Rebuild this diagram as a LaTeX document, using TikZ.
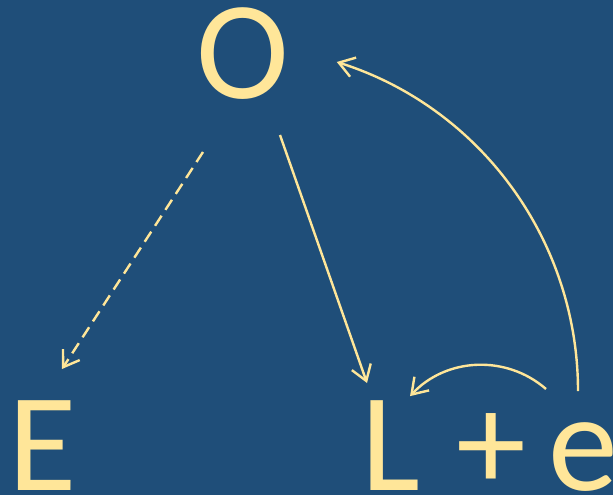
\documentclass[tikz,border=0pt]{standalone}
\usepackage{fontspec}
\setmainfont{Carlito}
\usetikzlibrary{arrows.meta,calc}
\definecolor{bgblue}{HTML}{1F4E79}
\definecolor{txtyellow}{HTML}{FFE699}
\begin{document}
\begin{tikzpicture}[x=1pt,y=-1pt,
  lbl/.style={inner sep=0pt,anchor=base,text=txtyellow,font=\fontsize{140}{140}\selectfont},
  conn/.style={draw=txtyellow,line width=2.4pt,-{Straight Barb[length=15pt,width=20pt,line width=2.4pt]}}]
\fill[bgblue] (0,0) rectangle (613,495);
\useasboundingbox (0,0) rectangle (613,495);
\node[lbl] (O) at (243,98) {O};
\node[lbl] (E) at (43,490) {E};
\node[lbl] (Le) at (490,490) {L\kern36pt+\kern22pt e};
\draw[conn,dash pattern=on 12pt off 7pt] ($(O.base)+(-40,54)$) -- ($(E.base)+(19,-121)$);
\draw[conn] ($(O.base)+(37,37)$) -- ($(Le.base)+(-123,-107)$);
\draw[conn] ($(Le.base)+(88,-99)$) arc[start angle=0,end angle=-72.5,radius=345];
\draw[conn] ($(Le.base)+(56,-101)$) arc[start angle=-49,end angle=-137,radius=98];
\end{tikzpicture}
\end{document}
